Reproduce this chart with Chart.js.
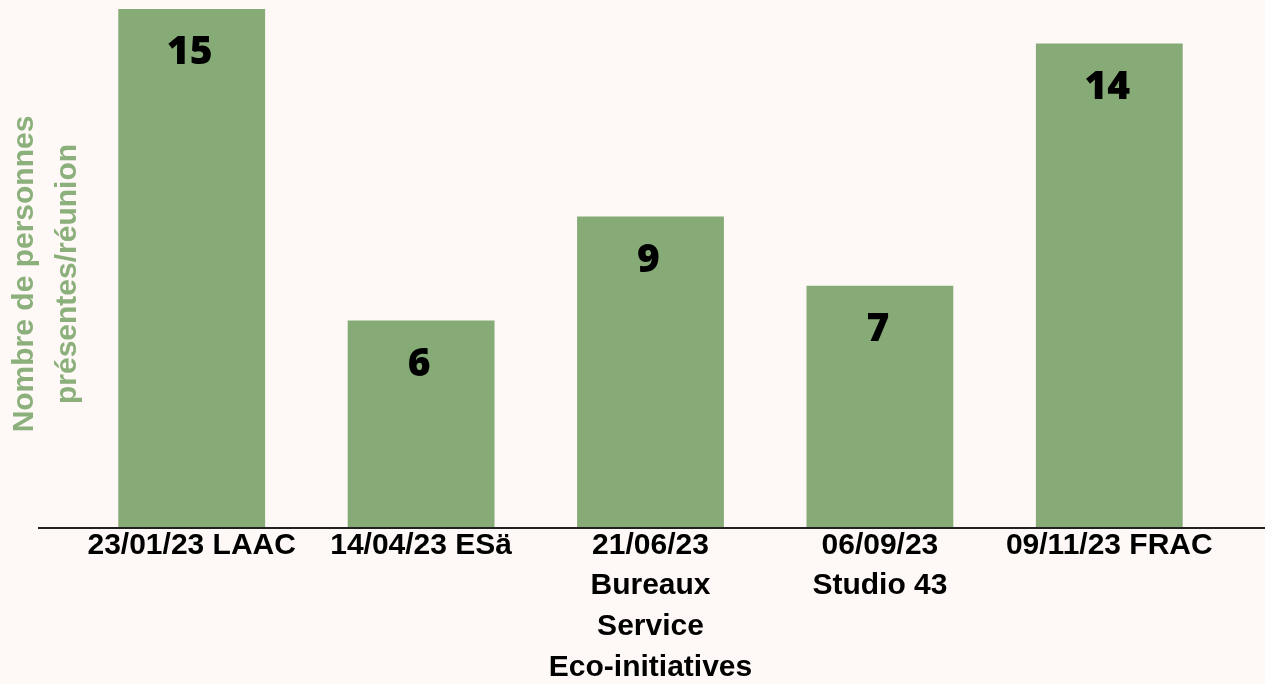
<!DOCTYPE html>
<html>
<head>
<meta charset="utf-8">
<script src="https://cdn.jsdelivr.net/npm/chart.js@4"></script>
<style>
  html, body { margin: 0; padding: 0; background: #fef9f6; }
  #wrap { width: 1265px; height: 684px; }
</style>
</head>
<body>
<div id="wrap"><canvas id="myChart"></canvas></div>
<script>
var reunions = [
  ['23/01/23 LAAC'],
  ['14/04/23 ESä'],
  ['21/06/23', 'Bureaux', 'Service', 'Eco-initiatives'],
  ['06/09/23', 'Studio 43'],
  ['09/11/23 FRAC']
];
var personnes = [15, 6, 9, 7, 14];
var titreAxe = ['Nombre de personnes', 'présentes/réunion'];

// values written inside the top of each bar, the baseline and the y title
var barLabels = {
  id: 'barLabels',
  afterDatasetsDraw: function (chart) {
    var ctx = chart.ctx;
    var area = chart.chartArea;
    ctx.save();
    ctx.strokeStyle = '#222';
    ctx.lineWidth = 2;
    ctx.beginPath();
    ctx.moveTo(38, area.bottom);
    ctx.lineTo(chart.width, area.bottom);
    ctx.stroke();

    ctx.fillStyle = '#000';
    ctx.font = '800 39px "Open Sans"';
    ctx.textAlign = 'center';
    ctx.textBaseline = 'middle';
    chart.getDatasetMeta(0).data.forEach(function (bar, i) {
      ctx.fillText(personnes[i], bar.x - 2, bar.y + 44);
    });

    // axis title, two lines rotated
    ctx.translate(area.left - 52, (area.top + area.bottom) / 2 + 10);
    ctx.rotate(-Math.PI / 2);
    ctx.fillStyle = '#8cb07c';
    ctx.font = 'bold 30px "Liberation Sans", Arial';
    titreAxe.forEach(function (line, i) {
      ctx.fillText(line, 0, i * 43);
    });
    ctx.restore();
  }
};

var ctx = document.getElementById('myChart').getContext('2d');
var myChart = new Chart(ctx, {
  type: 'bar',
  data: {
    labels: reunions,
    datasets: [{
      data: personnes,
      backgroundColor: '#86ab76',
      barPercentage: 0.64,
      categoryPercentage: 1
    }]
  },
  options: {
    responsive: true,
    maintainAspectRatio: false,
    animation: false,
    layout: { padding: { top: 0, right: 41, left: 0, bottom: 0 } },
    plugins: {
      legend: { display: false },
      tooltip: { enabled: false }
    },
    scales: {
      x: {
        grid: { display: false, drawTicks: false },
        border: { display: false },
        ticks: {
          color: '#000',
          padding: -3,
          maxRotation: 0,
          autoSkip: false,
          font: { family: '"Liberation Sans", Arial', size: 30, weight: 'bold', lineHeight: 1.36 }
        },
        afterFit: function (scale) { scale.height = 156; }
      },
      y: {
        min: 0,
        max: 15.26,
        grid: { display: false, drawTicks: false },
        border: { display: false },
        ticks: { display: false },
        afterFit: function (scale) { scale.width = 77; }
      }
    }
  },
  plugins: [barLabels]
});
</script>
</body>
</html>
